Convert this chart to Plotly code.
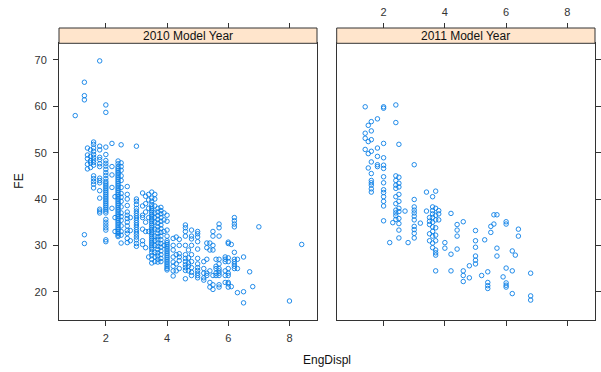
import plotly.graph_objects as go

# ---------------- data ----------------
panel_titles = ["2010 Model Year", "2011 Model Year"]

displ_2010 = [1.0, 1.3, 1.4, 1.5, 1.6, 1.8, 2.0, 2.2, 2.3, 2.4, 2.5, 2.7, 2.8, 3.0, 3.2, 3.3,
              3.4, 3.5, 3.6, 3.7, 3.8, 3.9, 4.0, 4.2, 4.3, 4.4, 4.6, 4.7, 4.8, 5.0, 5.2, 5.3,
              5.4, 5.5, 5.6, 5.7, 5.9, 6.0, 6.1, 6.2, 6.3, 6.5, 6.7, 6.8, 7.0, 8.0, 8.4]
fe_2010 = [
    [58.0],
    [65.2, 62.3, 61.4, 32.3, 30.4],
    [51.0, 49.5, 48.7, 47.5, 46.5],
    [50.6, 49.2, 48.3, 47.8, 46.8],
    [52.3, 51.8, 51.0, 50.3, 49.6, 49.0, 48.4, 47.9, 47.3, 45.0, 44.4, 43.8, 43.2, 42.4],
    [69.8, 51.4, 50.6, 49.0, 48.5, 47.6, 47.0, 44.5, 44.0, 43.5, 41.8, 40.2, 37.8, 37.4, 37.0],
    [60.3, 58.7, 51.2, 49.6, 48.3, 47.7, 47.1, 46.4, 45.7, 45.1, 44.4, 43.8, 43.4, 43.0, 42.6,
     42.2, 41.8, 41.4, 41.0, 40.6, 40.2, 39.8, 39.4, 39.0, 38.6, 38.2, 37.8, 37.4, 37.0, 35.6,
     35.0, 34.4, 33.8, 33.3, 31.2, 30.8],
    [52.0, 47.0, 45.2, 42.5, 38.0],
    [40.5, 36.0, 33.0],
    [48.2, 47.6, 47.0, 46.6, 46.2, 45.8, 45.4, 45.0, 44.6, 44.2, 43.8, 43.4, 43.0, 42.6, 42.2,
     41.8, 41.4, 41.0, 40.6, 40.2, 39.8, 39.4, 39.0, 38.6, 38.2, 37.8, 37.4, 37.0, 36.6, 36.2,
     35.8, 35.4, 35.0, 34.6, 34.2, 33.8, 33.4, 33.0, 32.6, 32.2, 31.9],
    [51.7, 47.8, 47.0, 46.2, 45.0, 44.0, 42.5, 41.2, 40.4, 39.5, 38.3, 37.0, 36.2, 35.4, 34.2,
     33.0, 32.2, 30.5],
    [42.7, 41.0, 40.0, 38.6, 37.2, 36.5, 35.8, 35.0, 34.2, 33.2, 32.6, 31.5, 30.6],
    [36.0, 33.2, 31.0],
    [51.4, 40.0, 39.5, 38.8, 38.0, 37.4, 36.9, 36.4, 35.9, 35.4, 34.9, 34.4, 33.9, 33.4, 32.9,
     32.4, 31.8, 31.2, 30.4, 29.8],
    [41.3, 38.5, 36.5, 36.0, 33.5, 31.0, 30.2],
    [40.6, 39.0, 37.2, 35.0, 33.0, 29.5],
    [41.0, 39.8, 38.0, 36.0, 33.0, 27.5],
    [41.5, 40.2, 39.5, 38.8, 38.3, 37.9, 37.5, 37.1, 36.7, 36.3, 35.9, 35.5, 35.1, 34.7, 34.3,
     33.9, 33.5, 33.1, 32.7, 32.3, 31.9, 31.5, 31.1, 30.7, 30.3, 29.9, 29.5, 29.1, 28.5, 27.8,
     27.0, 26.2],
    [41.0, 40.0, 38.5, 37.0, 36.0, 35.0, 33.5, 32.0, 31.0, 30.0, 28.5, 27.5, 26.5],
    [38.0, 37.2, 36.4, 35.6, 34.8, 34.0, 33.3, 32.6, 31.9, 31.2, 30.5, 29.8, 29.1, 28.4, 27.7,
     27.0, 26.4],
    [38.2, 37.5, 36.8, 36.0, 35.2, 34.4, 33.6, 32.8, 32.0, 31.2, 30.4, 29.6, 28.8, 28.0, 27.2,
     26.5],
    [37.0, 35.5, 33.0, 30.0],
    [36.5, 35.2, 33.3, 32.0, 31.0, 30.6, 30.2, 29.8, 29.4, 29.0, 28.6, 28.2, 27.8, 27.4, 27.0,
     26.6, 26.2, 25.8, 25.4, 25.0, 24.7],
    [31.5, 30.0, 29.0, 27.5, 26.4, 25.5, 24.5, 23.4],
    [31.8, 28.0, 26.0, 24.5],
    [31.3, 30.0, 28.2, 27.5, 26.7, 25.0],
    [34.4, 33.8, 33.0, 32.0, 30.0, 28.0, 27.2, 26.5, 25.8, 25.2, 24.6, 22.8],
    [29.0, 27.3, 26.2, 25.5, 24.5],
    [33.3, 32.0, 31.4, 30.0, 28.0, 26.5, 25.2, 24.2, 23.5],
    [33.0, 32.5, 31.8, 30.8, 29.2, 27.2, 26.0, 25.2, 24.6, 24.0, 23.5, 23.0],
    [26.5, 25.0, 24.0, 23.0, 22.5],
    [30.5, 29.5, 27.0, 24.0, 23.5],
    [30.5, 29.0, 24.5, 22.0, 21.0],
    [33.0, 32.0, 30.0, 29.0, 23.5, 21.5, 20.5],
    [27.0, 25.5, 25.0, 24.0, 23.5],
    [34.6, 33.8, 32.0, 27.0, 26.0, 25.0, 24.5, 24.0, 23.5, 21.5, 21.0],
    [27.5, 27.0, 26.5, 24.5, 23.5, 22.0],
    [30.7, 30.4, 27.3, 26.5, 25.0, 24.0, 23.5, 22.0, 21.7, 21.0],
    [30.2, 21.1],
    [36.0, 35.3, 34.6, 34.0, 28.5, 27.0, 26.5, 26.0, 25.5, 25.0],
    [27.0, 25.0, 19.8],
    [27.5, 20.0, 17.6],
    [24.3],
    [21.1],
    [34.0],
    [18.0],
    [30.2],
]

displ_2011 = [1.4, 1.5, 1.6, 1.8, 2.0, 2.2, 2.3, 2.4, 2.5, 2.7, 2.8, 3.0, 3.2, 3.4, 3.5, 3.6,
              3.7, 3.8, 4.0, 4.2, 4.4, 4.6, 4.8, 5.0, 5.2, 5.3, 5.4, 5.5, 5.6, 5.7, 5.9, 6.0,
              6.2, 6.3, 6.4, 6.8]
fe_2011 = [
    [59.9, 54.2, 53.1, 50.7],
    [55.9, 52.4, 49.8, 46.7],
    [56.7, 54.7, 52.8, 50.3, 48.0, 45.5, 44.0, 43.5, 43.0, 42.2, 41.5],
    [57.3, 51.0, 49.2, 47.4, 47.0],
    [59.9, 59.6, 52.0, 48.9, 47.3, 46.6, 44.8, 43.5, 42.0, 41.4, 40.5, 39.5, 38.5, 35.3],
    [30.6],
    [34.9],
    [60.3, 56.5, 45.0, 44.0, 43.0, 42.3, 40.5, 39.0, 37.6, 37.0, 36.4, 35.6],
    [51.8, 44.7, 43.4, 42.6, 41.0, 39.5, 38.0, 37.3, 35.8, 34.7, 33.3, 31.6],
    [37.4],
    [30.6],
    [47.4, 39.9, 38.3, 37.6, 37.0, 36.3, 35.5, 34.1, 33.4, 32.6, 31.6],
    [34.8],
    [41.5, 37.4],
    [36.0, 35.2, 34.5, 32.5, 31.0],
    [40.5, 38.3, 37.5, 36.8, 36.0, 35.0, 34.0, 33.0, 32.0, 30.5, 29.5],
    [41.7, 38.0, 36.5, 35.5, 33.8, 32.2, 31.0, 29.0, 28.4, 27.9, 24.5],
    [37.5, 36.8, 35.5],
    [30.6, 29.4],
    [36.9, 28.1, 24.5],
    [34.5, 33.3, 32.0, 29.2],
    [35.1, 24.5, 23.5, 22.2],
    [25.6, 23.0],
    [33.2, 31.0, 29.6, 27.7, 26.8, 26.0],
    [23.5],
    [31.2],
    [24.3, 22.0, 21.3, 20.7],
    [34.1, 32.8],
    [36.6, 34.6],
    [36.6, 29.4, 27.7],
    [23.2],
    [35.1, 34.6, 25.1, 21.9, 21.4, 21.0],
    [28.8, 24.5, 19.6],
    [27.9],
    [33.5, 32.0],
    [24.0, 19.1, 18.2],
]

x_ticks = [2, 4, 6, 8]
y_ticks = [20, 30, 40, 50, 60, 70]
x_title = "EngDispl"
y_title = "FE"


def flatten(displ, fe):
    xs, ys = [], []
    for d, vals in zip(displ, fe):
        for v in vals:
            xs.append(d)
            ys.append(v)
    return xs, ys


x10, y10 = flatten(displ_2010, fe_2010)
x11, y11 = flatten(displ_2011, fe_2011)

# ---------------- layout geometry ----------------
W, H = 601, 372
L1, R1 = 59 / W, 317 / W
L2, R2 = 336.7 / W, 595 / W
PB = 1 - 320 / H
PT = 1 - 43.3 / H
ST = 1 - 28 / H

XR = [0.47, 8.9]
YR = [13.9, 73.6]

COL = "#0a7fe6"
AX = "#333333"
FONT = "Liberation Sans, Arial, sans-serif"

marker = dict(symbol="circle-open", size=4.5, color=COL, line=dict(width=0.9, color=COL))

fig = go.Figure()
fig.add_trace(go.Scatter(x=x10, y=y10, mode="markers", marker=marker,
                         xaxis="x", yaxis="y", showlegend=False, hoverinfo="x+y"))
fig.add_trace(go.Scatter(x=x11, y=y11, mode="markers", marker=marker,
                         xaxis="x2", yaxis="y2", showlegend=False, hoverinfo="x+y"))
# invisible traces to activate top axes
fig.add_trace(go.Scatter(x=[None], y=[None], xaxis="x3", yaxis="y", showlegend=False))
fig.add_trace(go.Scatter(x=[None], y=[None], xaxis="x4", yaxis="y2", showlegend=False))

tickfont = dict(family=FONT, size=11, color="#333333")
common_x = dict(range=XR, tickvals=x_ticks, ticks="outside", ticklen=5, tickcolor=AX,
                showgrid=False, zeroline=False, tickfont=tickfont, fixedrange=True,
                ticklabelstandoff=3)
common_y = dict(range=YR, tickvals=y_ticks, ticks="outside", ticklen=5, tickcolor=AX,
                showgrid=False, zeroline=False, tickfont=tickfont, fixedrange=True,
                ticklabelstandoff=4)

fig.update_layout(
    width=W, height=H,
    margin=dict(l=0, r=0, t=0, b=0, autoexpand=False),
    paper_bgcolor="white", plot_bgcolor="white",
    font=dict(family=FONT, color="#222222"),
    xaxis=dict(domain=[L1, R1], anchor="y", side="bottom", showline=True, linecolor=AX,
               mirror=True, showticklabels=True, **common_x),
    xaxis3=dict(overlaying="x", matches="x", anchor="free", position=ST, side="top",
                showline=False, showticklabels=False, **common_x),
    xaxis2=dict(domain=[L2, R2], anchor="y2", side="bottom", showline=True, linecolor=AX,
                mirror=True, showticklabels=False, **common_x),
    xaxis4=dict(overlaying="x2", matches="x2", anchor="free", position=ST, side="top",
                showline=False, showticklabels=True, **common_x),
    yaxis=dict(domain=[PB, PT], anchor="x", side="left", showline=True, linecolor=AX,
               mirror=True, showticklabels=True, **common_y),
    yaxis2=dict(domain=[PB, PT], anchor="x2", side="right", showline=True, linecolor=AX,
                mirror=True, showticklabels=False, matches="y", **common_y),
    hovermode="closest",
)

shapes = []
annotations = []
for (l, r), title in zip([(L1, R1), (L2, R2)], panel_titles):
    shapes.append(dict(type="rect", xref="paper", yref="paper", x0=l, x1=r, y0=PT, y1=ST,
                       fillcolor="#ffe5cc", line=dict(color=AX, width=1), layer="above"))
    annotations.append(dict(text=title, xref="paper", yref="paper", x=(l + r) / 2,
                            y=(PT + ST) / 2, showarrow=False, xanchor="center",
                            yanchor="middle", font=dict(family=FONT, size=12, color="#111111")))

annotations.append(dict(text=x_title, xref="paper", yref="paper", x=(L1 + R2) / 2,
                        y=1 - 360 / H, showarrow=False, xanchor="center", yanchor="middle",
                        font=dict(family=FONT, size=12, color="#111111")))
annotations.append(dict(text=y_title, xref="paper", yref="paper", x=19 / W,
                        y=(PB + PT) / 2, showarrow=False, xanchor="center", yanchor="middle",
                        textangle=-90, font=dict(family=FONT, size=12, color="#111111")))

fig.update_layout(shapes=shapes, annotations=annotations)

fig.write_html("out.html", config={"displayModeBar": False},
               post_script="document.body.style.margin='0px';document.body.style.padding='0px';")
